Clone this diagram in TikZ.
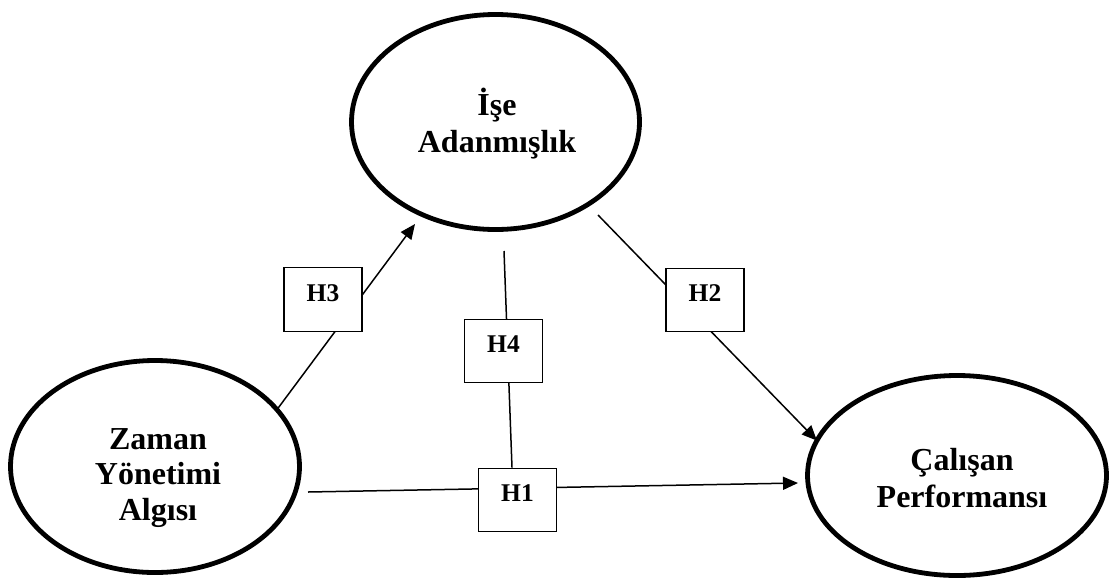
\documentclass[tikz,border=0pt]{standalone}
\usepackage{fontspec}
\setmainfont{Liberation Serif}
\usetikzlibrary{arrows.meta,backgrounds,shapes.geometric,calc}
\begin{document}
\begin{tikzpicture}[x=1pt,y=-1pt,
  construct/.style={ellipse,draw,line width=4.8pt,inner sep=0pt,outer sep=0pt},
  lbl/.style={align=center,inner sep=0pt},
  hbox/.style={rectangle,draw,line width=1.3pt,fill=white,minimum width=78pt,minimum height=63.5pt,inner sep=0pt,text depth=13pt,font=\bfseries\fontsize{25.5}{29}\selectfont},
  conn/.style={line width=1.5pt},
  arr/.style={conn,-{Triangle[length=15pt,width=13pt]}}]
\useasboundingbox (0,0) rectangle (1110,579);

% constructs
\node[construct,minimum width=288pt,minimum height=215pt] (ise) at (495.5,122) {};
\node[construct,minimum width=289pt,minimum height=212pt] (zya) at (155,466.5) {};
\node[construct,minimum width=299pt,minimum height=200pt] (cp) at (957,475.5) {};

\node[lbl,font=\bfseries\fontsize{32}{37}\selectfont] (iset) at (497,123.5) {İşe\\Adanmışlık};
\node[lbl,font=\bfseries\fontsize{32}{35.5}\selectfont] (zyat) at (158,478) {Zaman\\Yönetimi\\Algısı};
\node[lbl,font=\bfseries\fontsize{32}{37}\selectfont] (cpt) at (962,478) {Çalışan\\Performansı};

% hypothesis boxes
\node[hbox] (h3) at (323,299.5) {H3};
\node[hbox] (h4) at (503.5,351) {H4};
\node[hbox] (h2) at (705,300) {H2};
\node[hbox] (h1) at (517.5,500) {H1};

% free connector ends
\coordinate (h3tip) at (415,224);
\coordinate (h2start) at (598,215);
\coordinate (h4start) at (504,251);
\coordinate (h1start) at (308,492);
\coordinate (h1tip) at (798,483);

\begin{pgfonlayer}{background}
\draw[arr] (zya.25) -- (h3tip);
\draw[arr] (h2start) -- (cp.166);
\draw[conn] (h4start) -- ($(h1.north)+(-5.5,0)$);
\draw[arr] (h1start) -- (h1tip);
\end{pgfonlayer}
\end{tikzpicture}
\end{document}
